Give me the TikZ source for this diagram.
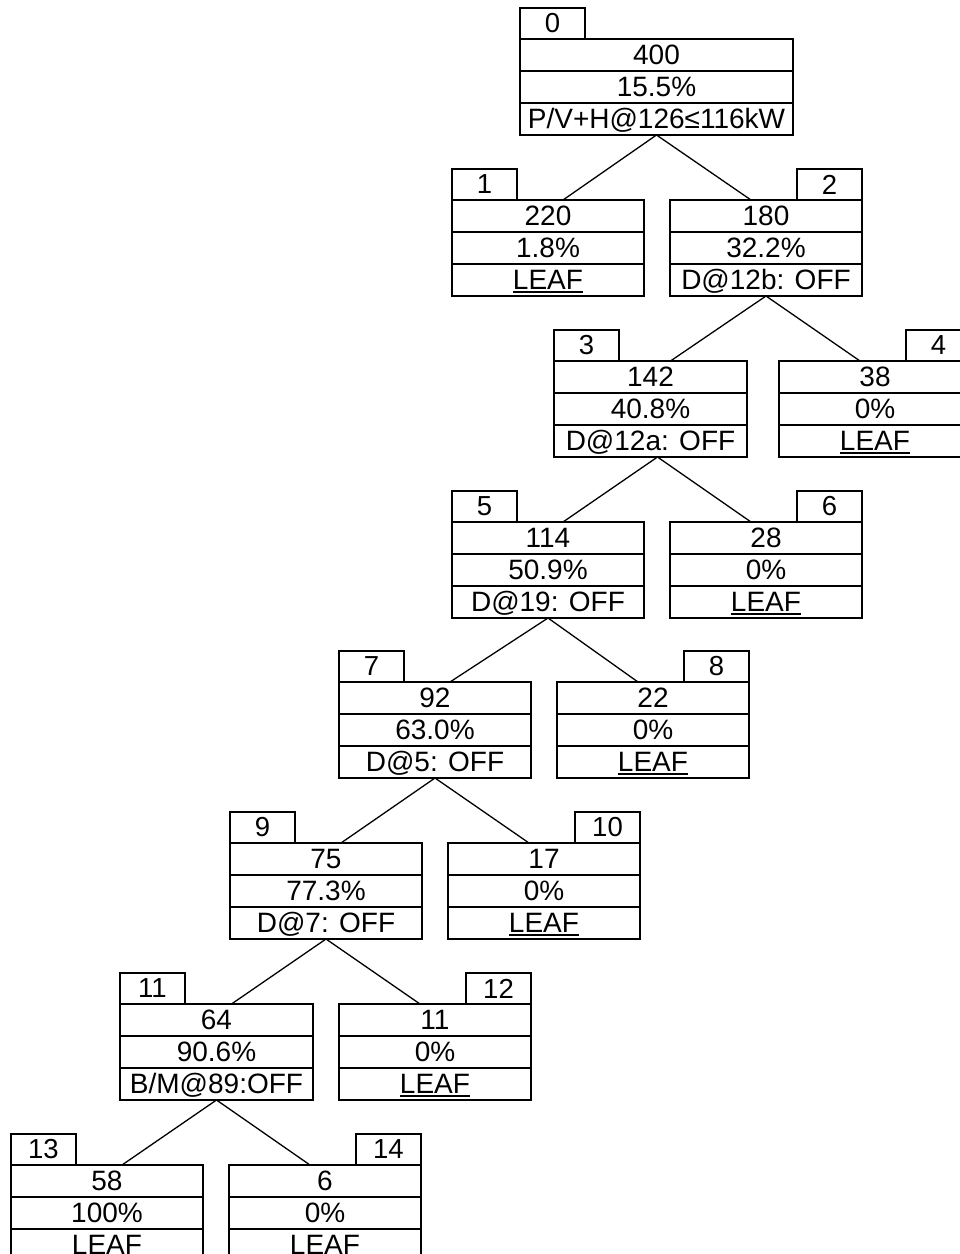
\documentclass[tikz,border=0pt]{standalone}
\usepackage{fontspec}
\setmainfont{Liberation Sans}
\newcommand\uline[1]{\setbox0=\hbox{#1}\rlap{\copy0}\rule[-4pt]{\wd0}{1.6pt}}
\tikzset{
  lw/.style={line width=1.3pt},
  box/.style={lw, draw, fill=white, minimum height=96pt, inner sep=0pt, outer sep=0pt, anchor=north west},
  tab/.style={lw, draw, fill=white, minimum width=65pt, minimum height=31pt, inner sep=0pt, outer sep=0pt,
    font=\fontsize{27.5}{27.5}\selectfont},
  rowtext/.style={inner sep=0pt, anchor=base, font=\fontsize{28}{28}\selectfont},
  edge/.style={lw},
}
% #1 name, #2 left, #3 top, #4 width, #5 tab side, #6 id, #7 count, #8 pct, #9 label
\newcommand\tnode[9]{%
  \node[box, minimum width=#4 pt] (#1) at (#2,#3) {};
  \node[tab, anchor=south #5] (#1tab) at (#1.north #5) {#6};
  \draw[lw] ([yshift=-32pt]#1.north west) -- ([yshift=-32pt]#1.north east);
  \draw[lw] ([yshift=-64pt]#1.north west) -- ([yshift=-64pt]#1.north east);
  \node[rowtext] (#1a) at ([yshift=-25pt]#1.north) {#7};
  \node[rowtext] (#1b) at ([yshift=-57pt]#1.north) {#8};
  \node[rowtext] (#1c) at ([yshift=-89pt]#1.north) {#9};
}
\begin{document}
\begin{tikzpicture}[x=1pt,y=-1pt]
  \fill[white] (0,0) rectangle (960,1254);
  \useasboundingbox (0,0) rectangle (960,1254);
  \clip (0,0) rectangle (960,1254);
  \tnode{n0}{520}{39}{273}{west}{0}{400}{15.5\%}{P/V+H@126≤116kW}
  \tnode{n1}{452}{200}{192}{west}{1}{220}{1.8\%}{\uline{LEAF}}
  \tnode{n2}{670}{200}{192}{east}{2}{180}{32.2\%}{D@12b: OFF}
  \tnode{n3}{554}{361}{193}{west}{3}{142}{40.8\%}{D@12a: OFF}
  \tnode{n4}{779}{361}{192}{east}{4}{38}{0\%}{\uline{LEAF}}
  \tnode{n5}{452}{522}{192}{west}{5}{114}{50.9\%}{D@19: OFF}
  \tnode{n6}{670}{522}{192}{east}{6}{28}{0\%}{\uline{LEAF}}
  \tnode{n7}{339}{682}{192}{west}{7}{92}{63.0\%}{D@5: OFF}
  \tnode{n8}{557}{682}{192}{east}{8}{22}{0\%}{\uline{LEAF}}
  \tnode{n9}{230}{843}{192}{west}{9}{75}{77.3\%}{D@7: OFF}
  \tnode{n10}{448}{843}{192}{east}{10}{17}{0\%}{\uline{LEAF}}
  \tnode{n11}{120}{1004}{193}{west}{11}{64}{90.6\%}{B/M@89:OFF}
  \tnode{n12}{339}{1004}{192}{east}{12}{11}{0\%}{\uline{LEAF}}
  \tnode{n13}{11}{1165}{192}{west}{13}{58}{100\%}{\uline{LEAF}}
  \tnode{n14}{229}{1165}{192}{east}{14}{6}{0\%}{\uline{LEAF}}
  \draw[edge] (n0.south) -- ([xshift=15pt]n1.north);
  \draw[edge] (n0.south) -- ([xshift=-15pt]n2.north);
  \draw[edge] (n2.south) -- ([xshift=20pt]n3.north);
  \draw[edge] (n2.south) -- ([xshift=-15pt]n4.north);
  \draw[edge] ([xshift=7pt]n3.south) -- ([xshift=15pt]n5.north);
  \draw[edge] ([xshift=7pt]n3.south) -- ([xshift=-15pt]n6.north);
  \draw[edge] (n5.south) -- ([xshift=15pt]n7.north);
  \draw[edge] (n5.south) -- ([xshift=-15pt]n8.north);
  \draw[edge] (n7.south) -- ([xshift=15pt]n9.north);
  \draw[edge] (n7.south) -- ([xshift=-15pt]n10.north);
  \draw[edge] (n9.south) -- ([xshift=15pt]n11.north);
  \draw[edge] (n9.south) -- ([xshift=-15pt]n12.north);
  \draw[edge] (n11.south) -- ([xshift=15pt]n13.north);
  \draw[edge] (n11.south) -- ([xshift=-15pt]n14.north);
\end{tikzpicture}
\end{document}
